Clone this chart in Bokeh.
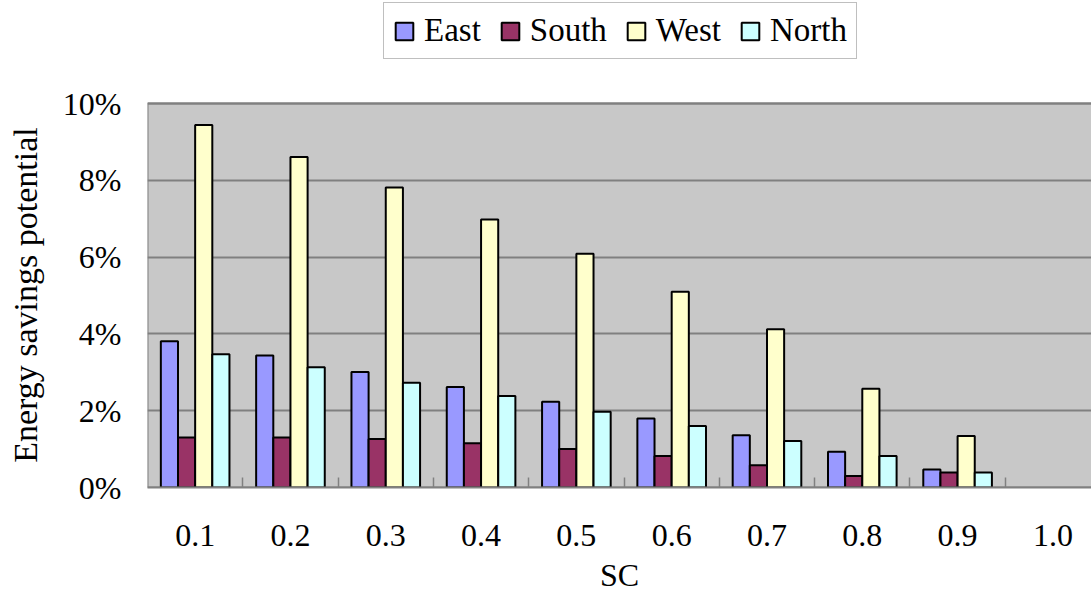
from bokeh.plotting import figure
from bokeh.models import (Range1d, FixedTicker, NumeralTickFormatter, Legend, LegendItem,
                          ColumnDataSource, BoxAnnotation)
from bokeh.embed import file_html
from bokeh.resources import INLINE

categories = ["0.1", "0.2", "0.3", "0.4", "0.5", "0.6", "0.7", "0.8", "0.9", "1.0"]
east  = [0.0381, 0.0344, 0.0301, 0.0262, 0.0223, 0.0180, 0.0136, 0.0093, 0.0047, 0.0]
south = [0.0130, 0.0130, 0.0126, 0.0115, 0.0100, 0.0082, 0.0058, 0.0030, 0.0039, 0.0]
west  = [0.0944, 0.0861, 0.0781, 0.0698, 0.0609, 0.0510, 0.0412, 0.0257, 0.0134, 0.0]
north = [0.0347, 0.0313, 0.0273, 0.0238, 0.0197, 0.0160, 0.0121, 0.0082, 0.0039, 0.0]
series_names = ["East", "South", "West", "North"]
colors = ["#9999FF", "#993366", "#FFFFCC", "#CCFFFF"]
y_ticks = [0.0, 0.02, 0.04, 0.06, 0.08, 0.10]
y_title = "Energy savings potential"
x_title = "SC"

FONT = "Liberation Serif"
Y_MAX = 0.10
X_END = 9.905
# frame spans the full height above the x axis; the plot area (0..10%) covers the lower 384 px of 487
Y_TOP = Y_MAX * 487 / 384

p = figure(width=1091, height=609, output_backend="svg", toolbar_location=None,
           x_range=Range1d(0, X_END), y_range=Range1d(0, Y_TOP),
           min_border_left=147, min_border_right=0, min_border_top=0, min_border_bottom=122)
p.background_fill_color = None
p.border_fill_color = "white"
p.outline_line_color = None

plot_area = BoxAnnotation(left=0, right=X_END + 0.2, bottom=0, top=Y_MAX, level="image",
                          fill_color="#C8C8C8", fill_alpha=1,
                          line_color="#808080", line_width=2, line_alpha=1)
p.add_layout(plot_area)

bar_w = 0.18
offsets = [-0.27, -0.09, 0.09, 0.27]
renderers = []
for vals, off, col, name in zip([east, south, west, north], offsets, colors, series_names):
    xs = [i + 0.5 + off for i in range(len(categories))]
    src = ColumnDataSource(dict(x=xs, top=vals,
                                la=[1.0 if v > 0 else 0.0 for v in vals]))
    r = p.vbar(x="x", top="top", width=bar_w, bottom=0, source=src,
               fill_color=col, line_color="black", line_width=2, line_alpha="la")
    renderers.append((name, r))

# axes
p.xaxis.ticker = FixedTicker(ticks=[i + 0.5 for i in range(len(categories))],
                             minor_ticks=[float(i) for i in range(1, len(categories))])
p.xaxis.major_label_overrides = {i + 0.5: c for i, c in enumerate(categories)}
p.xaxis.major_tick_in = 0
p.xaxis.major_tick_out = 0
p.xaxis.minor_tick_in = 10
p.xaxis.minor_tick_out = 0
p.xaxis.minor_tick_line_color = "#808080"
p.xaxis.minor_tick_line_width = 1.5
p.xaxis.axis_line_color = "#808080"
p.xaxis.axis_line_width = 2
p.xaxis.major_label_text_font = FONT
p.xaxis.major_label_text_font_size = "32px"
p.xaxis.major_label_text_color = "black"
p.xaxis.major_label_standoff = 37
p.xaxis.axis_label = x_title
p.xaxis.axis_label_text_font = FONT
p.xaxis.axis_label_text_font_size = "32px"
p.xaxis.axis_label_text_font_style = "normal"
p.xaxis.axis_label_text_color = "black"
p.xaxis.axis_label_standoff = 8

p.yaxis.ticker = FixedTicker(ticks=y_ticks)
p.yaxis.formatter = NumeralTickFormatter(format="0%")
p.yaxis.major_tick_in = 0
p.yaxis.major_tick_out = 0
p.yaxis.minor_tick_in = 0
p.yaxis.minor_tick_out = 0
p.yaxis.axis_line_color = None
p.yaxis.major_label_text_font = FONT
p.yaxis.major_label_text_font_size = "32px"
p.yaxis.major_label_text_color = "black"
p.yaxis.major_label_standoff = 26
# the axis title is centred on the whole frame; trailing no-break spaces centre
# the visible words on the 0..10% plot area instead
p.yaxis.axis_label = y_title + "\u00a0" * 12
p.yaxis.axis_label_text_font = FONT
p.yaxis.axis_label_text_font_size = "34px"
p.yaxis.axis_label_text_font_style = "normal"
p.yaxis.axis_label_text_color = "black"
p.yaxis.axis_label_standoff = 16

p.xgrid.grid_line_color = None
p.ygrid.grid_line_color = "#808080"
p.ygrid.grid_line_width = 2

legend = Legend(items=[LegendItem(label=n, renderers=[r]) for n, r in renderers],
                orientation="horizontal", location=(236, 428))
legend.label_text_font = FONT
legend.label_text_font_size = "33px"
legend.label_text_color = "black"
legend.glyph_width = 22
legend.glyph_height = 22
legend.label_standoff = 9
legend.spacing = 18
legend.padding = 9
legend.margin = 0
legend.border_line_color = "#808080"
legend.border_line_width = 1.5
legend.background_fill_color = "white"
legend.background_fill_alpha = 1
p.add_layout(legend, "center")

open("out.html", "w").write(file_html(p, INLINE))
